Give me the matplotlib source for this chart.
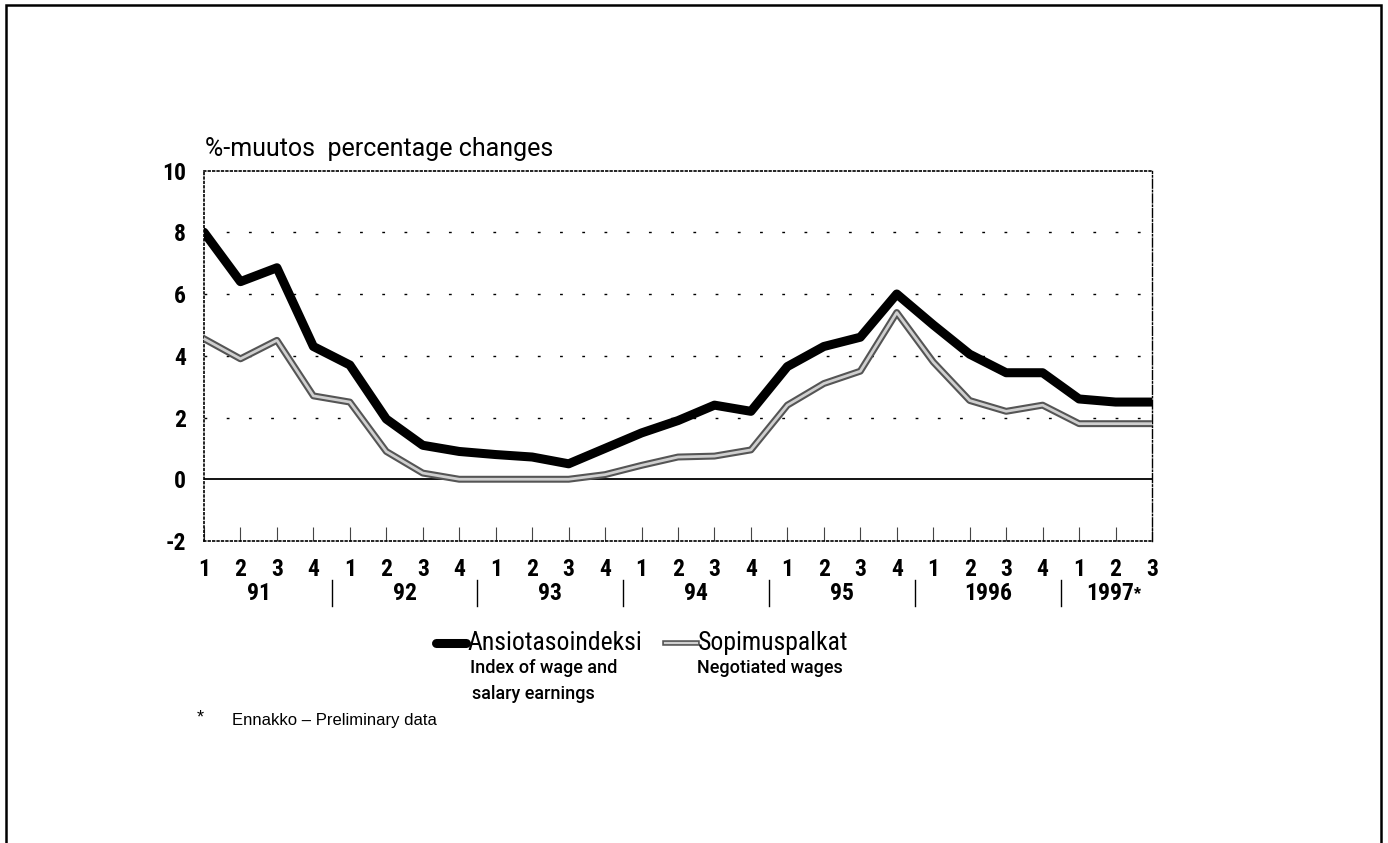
import matplotlib
matplotlib.use("Agg")
import matplotlib.pyplot as plt
from matplotlib import font_manager
from matplotlib.lines import Line2D
from matplotlib.patches import Rectangle
import numpy as np

### data
quarters = ["1", "2", "3", "4"] * 6 + ["1", "2", "3"]
years = ["91", "92", "93", "94", "95", "1996", "1997"]
quarters_per_year = [4, 4, 4, 4, 4, 4, 3]

# Ansiotasoindeksi - index of wage and salary earnings
ansio = [8.0, 6.4, 6.85, 4.3,
         3.7, 1.95, 1.1, 0.9,
         0.8, 0.72, 0.5, 1.0,
         1.5, 1.9, 2.4, 2.2,
         3.65, 4.3, 4.6, 6.0,
         5.0, 4.05, 3.45, 3.45,
         2.6, 2.5, 2.5]
# Sopimuspalkat - negotiated wages
sopimus = [4.55, 3.9, 4.5, 2.7,
           2.5, 0.9, 0.2, 0.0,
           0.0, 0.0, 0.0, 0.15,
           0.45, 0.72, 0.75, 0.95,
           2.4, 3.1, 3.5, 5.4,
           3.8, 2.55, 2.2, 2.4,
           1.8, 1.8, 1.8]

yticks = [-2, 0, 2, 4, 6, 8, 10]

### fonts - prefer a narrow face, otherwise Roboto
names = {f.name for f in font_manager.fontManager.ttflist}
cond = 'DejaVu Sans'
for cand in ['Liberation Sans Narrow', 'Roboto Condensed', 'DejaVu Sans Condensed', 'Roboto']:
    if cand in names:
        cond = cand
        break
plain = 'Roboto' if 'Roboto' in names else 'DejaVu Sans'
arial = 'Liberation Sans' if 'Liberation Sans' in names else 'DejaVu Sans'
big = 17

W, H = 1388, 843
fig = plt.figure(figsize=(W / 100, H / 100), dpi=100)
ax = fig.add_axes([204 / W, 1 - 541 / H, 948 / W, (541 - 170.5) / H])

x = np.arange(len(ansio))

# grid lines
for yv in [2, 4, 6, 8]:
    ax.axhline(yv, color='black', lw=1, ls=(0, (2, 14)), zorder=1)
ax.axhline(0, color='black', lw=1.3, zorder=2)

# gray line drawn as dark outline + light core
ax.plot(x, sopimus, color='#555555', lw=5, solid_joinstyle='round', zorder=3)
ax.plot(x, sopimus, color='#cfcfcf', lw=2, solid_joinstyle='round', zorder=4)
ax.plot(x, ansio, color='black', lw=6.5, solid_joinstyle='round',
        solid_capstyle='round', zorder=5)

ax.set_xlim(0, len(ansio) - 1)
ax.set_ylim(-2, 10)

for side in ['left', 'top', 'bottom']:
    ax.spines[side].set_linestyle(':')
    ax.spines[side].set_linewidth(1.2)
ax.spines['right'].set_linestyle('-.')
ax.spines['right'].set_linewidth(1)

ax.set_yticks(yticks)
ax.set_yticklabels([str(v) for v in yticks], fontsize=big, fontweight='bold', family=cond)
ax.tick_params(axis='y', length=0, pad=13)
ax.set_xticks(x)
ax.set_xticklabels(quarters, fontsize=big, fontweight='bold', family=cond)
ax.tick_params(axis='x', direction='in', length=10, width=0.8, color='#444444', pad=12)

# year labels and separators
trans = ax.get_xaxis_transform()
start = 0
for i, (yr, n) in enumerate(zip(years, quarters_per_year)):
    centre = start + (n - 1) / 2
    if yr == '1997':
        ax.text(centre - 0.15, -0.141, yr, transform=trans, ha='center', va='center',
                fontsize=big, fontweight='bold', family=cond)
        ax.text(centre + 0.52, -0.145, '*', transform=trans, ha='left', va='center',
                fontsize=13, fontweight='bold', family=arial)
    else:
        ax.text(centre, -0.141, yr, transform=trans, ha='center', va='center',
                fontsize=big, fontweight='bold', family=cond)
    if i > 0:
        ax.plot([start - 0.5, start - 0.5], [-0.105, -0.175], transform=trans,
                color='black', lw=1, clip_on=False)
    start += n

# title
fig.text(205 / W, 1 - 149 / H, '%-muutos  percentage changes', fontsize=18,
         family=plain, ha='left', va='center')

# legend
ly = 1 - 643 / H
fig.add_artist(Line2D([436 / W, 466 / W], [ly, ly], color='black', lw=6.5,
                      solid_capstyle='round'))
fig.text(467 / W, ly, 'Ansiotasoindeksi', fontsize=18.5, family=cond, ha='left', va='center')
fig.add_artist(Line2D([665 / W, 697 / W], [ly, ly], color='#555555', lw=4))
fig.add_artist(Line2D([665 / W, 697 / W], [ly, ly], color='#cfcfcf', lw=1.6))
fig.text(698 / W, ly, 'Sopimuspalkat', fontsize=18.5, family=cond, ha='left', va='center')
fig.text(470 / W, 1 - 668 / H, 'Index of wage and', fontsize=13, family=plain,
         fontweight='medium', ha='left', va='center')
fig.text(472 / W, 1 - 694 / H, 'salary earnings', fontsize=13, family=plain,
         fontweight='medium', ha='left', va='center')
fig.text(697 / W, 1 - 668 / H, 'Negotiated wages', fontsize=13, family=plain,
         fontweight='medium', ha='left', va='center')

# footnote
fig.text(200 / W, 1 - 718 / H, '*', fontsize=13, family=arial, ha='center', va='center')
fig.text(232 / W, 1 - 720 / H, 'Ennakko \u2013 Preliminary data', fontsize=12,
         family=arial, ha='left', va='center')

# outer frame
fig.add_artist(Rectangle((6 / W, -0.01), (1381 - 6) / W, 1 - 5 / H + 0.01,
                         transform=fig.transFigure, fill=False, lw=1.8,
                         edgecolor='black'))

fig.savefig('out.png', dpi=100)
